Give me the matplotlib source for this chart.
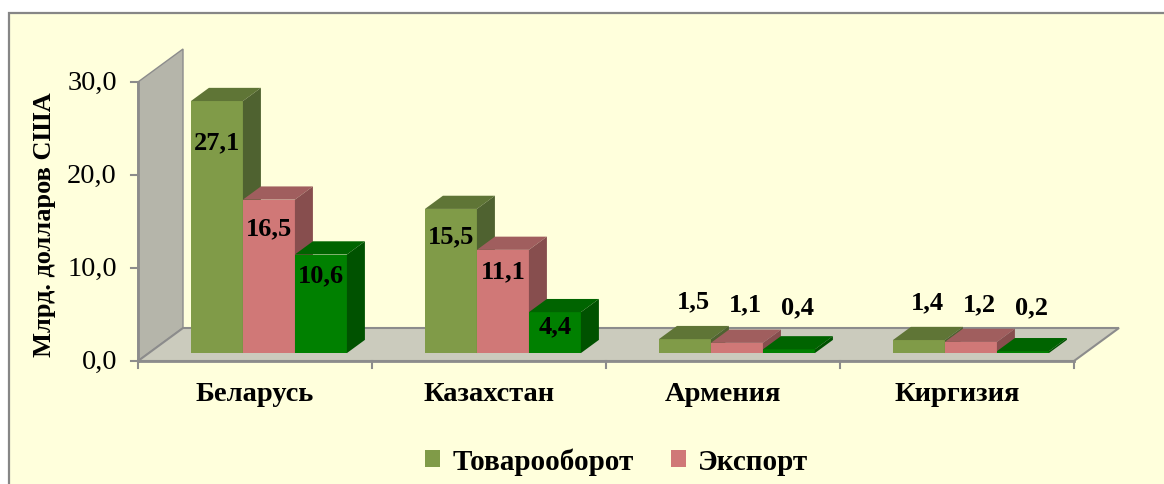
#!/usr/bin/env python3
import matplotlib.pyplot as plt
import matplotlib.patches as patches

plt.rcParams['font.family'] = ['Liberation Serif', 'DejaVu Serif']

# Data
countries = ['Беларусь', 'Казахстан', 'Армения', 'Киргизия']
series_names = ['Товарооборот', 'Экспорт', '']
turnover = [27.1, 15.5, 1.5, 1.4]
export = [16.5, 11.1, 1.1, 1.2]
third = [10.6, 4.4, 0.4, 0.2]
yticks = [0, 10, 20, 30]

# Styles: (front, top, side)
bar_colors = [('#809B48', '#5F7536', '#4F6230'),
              ('#D07877', '#A05E5E', '#874E4E'),
              ('#008000', '#006400', '#005200')]
wall_color = '#B5B5AA'
floor_color = '#CBCBBD'
edge_color = '#8C8C8C'
bg_color = '#FFFFDC'

# Layout (pixel geometry of the frame)
W, H = 1164, 485
x0_px, y0_px = 138, 362
cat_px, unit_px = 234, 9.3
DX, DY = 45 / cat_px, 33 / unit_px     # floor depth vector
f0, f1 = 0.24, 0.64                    # bar depth within floor
bw, g0 = 0.2222, 0.18                  # bar width, group offset

fig = plt.figure(figsize=(W / 100, H / 100), dpi=100)
fig.patch.set_facecolor('white')
frame = patches.Rectangle((9 / W, -0.2), 1.2, 1.2 - 14 / H, transform=fig.transFigure,
                          facecolor=bg_color, edgecolor='#868686', linewidth=1.6, zorder=-10)
fig.patches.append(frame)

ax = fig.add_axes([0, 0, 1, 1])
ax.set_xlim(-x0_px / cat_px, (W - x0_px) / cat_px)
ax.set_ylim(-(H - y0_px) / unit_px, y0_px / unit_px)
ax.axis('off')

n = len(countries)
ymax = yticks[-1]

# Back wall
wall = patches.Polygon([(0, 0), (0, ymax), (DX, ymax + DY), (DX, DY)], closed=True,
                       facecolor=wall_color, edgecolor=edge_color, linewidth=1)
ax.add_patch(wall)
# Floor
floor = patches.Polygon([(0, 0), (n, 0), (n + DX, DY), (DX, DY)], closed=True,
                        facecolor=floor_color, edgecolor=edge_color, linewidth=1.5)
ax.add_patch(floor)

# Axis lines and ticks
ax.plot([0, 0], [0, ymax], color=edge_color, linewidth=2)
ax.plot([0, n], [0, 0], color=edge_color, linewidth=2)
for t in yticks:
    ax.plot([-7 / cat_px, 0], [t, t], color=edge_color, linewidth=1.5)
    ax.text(-21 / cat_px, t, f'{t:.1f}'.replace('.', ','), ha='right', va='center',
            fontsize=20.5, color='black')
for k in range(n + 1):
    ax.plot([k, k], [0, -7 / unit_px], color=edge_color, linewidth=1.5)

# Bars
d = f1 - f0
for i in range(n):
    for j, vals in enumerate([turnover, export, third]):
        v = vals[i]
        front_c, top_c, side_c = bar_colors[j]
        xl = i + g0 + j * bw + f0 * DX
        base = f0 * DY
        top = base + v
        ax.add_patch(patches.Rectangle((xl, base), bw, v, facecolor=front_c, edgecolor='none'))
        ax.add_patch(patches.Polygon([(xl, top), (xl + bw, top), (xl + bw + d * DX, top + d * DY),
                                      (xl + d * DX, top + d * DY)], closed=True,
                                     facecolor=top_c, edgecolor='none'))
        ax.add_patch(patches.Polygon([(xl + bw, base), (xl + bw, top),
                                      (xl + bw + d * DX, top + d * DY),
                                      (xl + bw + d * DX, base + d * DY)], closed=True,
                                     facecolor=side_c, edgecolor='none'))
        label = f'{v:.1f}'.replace('.', ',')
        if v > 3:
            ax.text(xl + bw / 2, v * 0.87, label, ha='center', va='center',
                    fontsize=19, fontweight='bold')
        else:
            ax.text(xl + bw / 2 + d * DX / 2, max(v + 5, 5.8), label, ha='center',
                    va='center', fontsize=19, fontweight='bold')

# Category labels
for i, c in enumerate(countries):
    ax.text(i + 0.5, -33 / unit_px, c, ha='center', va='center', fontsize=20.5,
            fontweight='bold')

# Y axis title
ax.text(-93 / cat_px, 137 / unit_px, 'Млрд. долларов США', rotation=90, ha='center',
        va='center', fontsize=19, fontweight='bold')

# Legend
handles = [patches.Patch(facecolor=bar_colors[k][0], edgecolor='none', label=series_names[k])
           for k in range(2)]
leg = ax.legend(handles=handles, loc='center', bbox_to_anchor=(0.530, 0.047), ncol=2,
                frameon=False, handlelength=0.5, handleheight=0.5, handletextpad=0.42,
                columnspacing=1.3, prop={'size': 21, 'weight': 'bold'})

plt.savefig('out.png', dpi=100, facecolor=fig.get_facecolor())
plt.close()
